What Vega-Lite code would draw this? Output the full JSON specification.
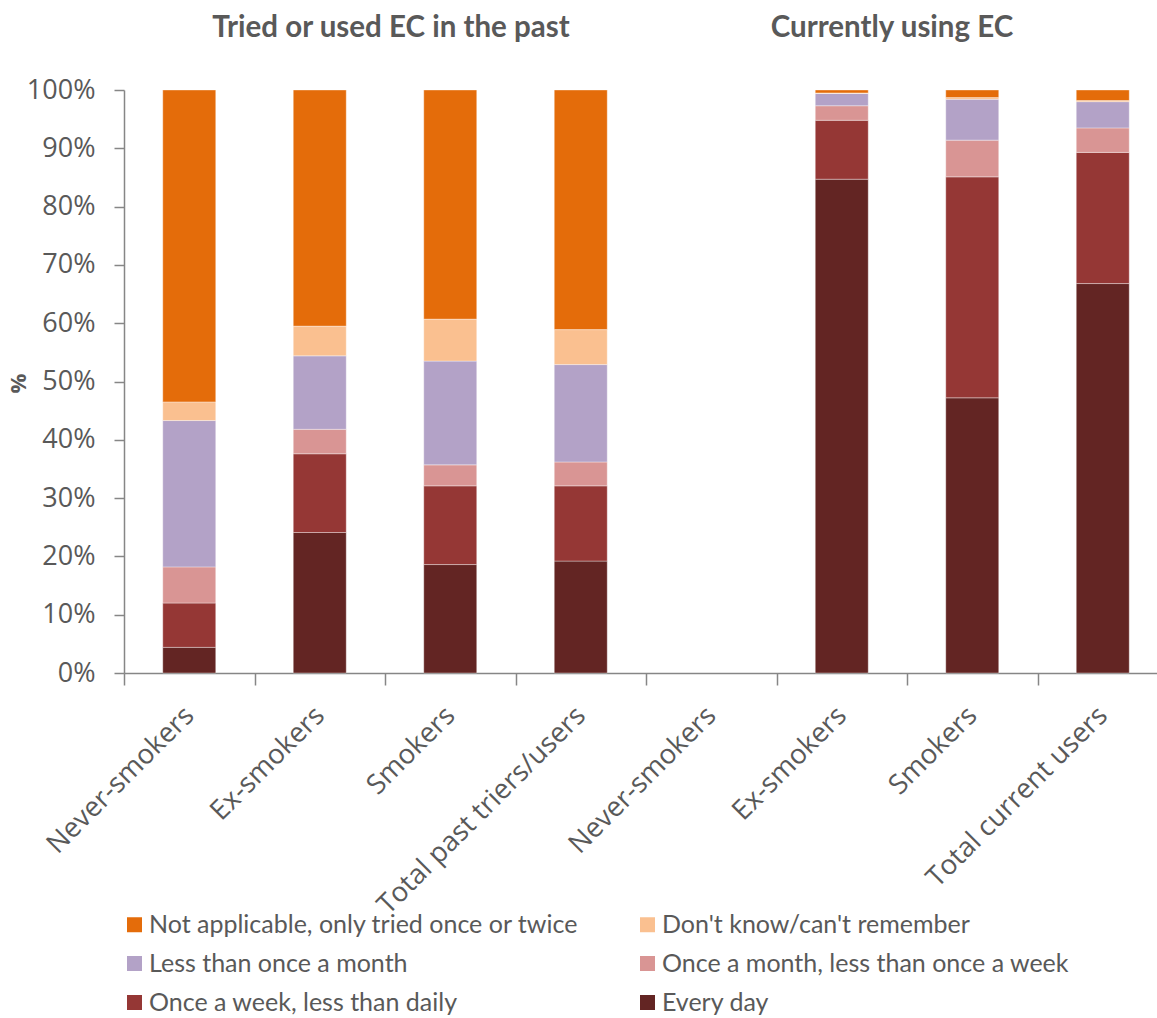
{
  "$schema": "https://vega.github.io/schema/vega-lite/v6.json",
  "autosize": {"type": "none"},
  "padding": {"left": 124, "top": 90, "right": 0, "bottom": 345},
  "width": 1033,
  "height": 583,
  "background": "#ffffff",
  "config": {"view": {"stroke": null}, "font": "Open Sans"},
  "datasets": {
    "bars": [
      {"cat": "Never-smokers (past)", "freq": "Every day", "k": 1, "pct": 4.4},
      {"cat": "Never-smokers (past)", "freq": "Once a week, less than daily", "k": 2, "pct": 7.6},
      {"cat": "Never-smokers (past)", "freq": "Once a month, less than once a week", "k": 3, "pct": 6.2},
      {"cat": "Never-smokers (past)", "freq": "Less than once a month", "k": 4, "pct": 25.1},
      {"cat": "Never-smokers (past)", "freq": "Don't know/can't remember", "k": 5, "pct": 3.2},
      {"cat": "Never-smokers (past)", "freq": "Not applicable, only tried once or twice", "k": 6, "pct": 53.5},
      {"cat": "Ex-smokers (past)", "freq": "Every day", "k": 1, "pct": 24.1},
      {"cat": "Ex-smokers (past)", "freq": "Once a week, less than daily", "k": 2, "pct": 13.5},
      {"cat": "Ex-smokers (past)", "freq": "Once a month, less than once a week", "k": 3, "pct": 4.2},
      {"cat": "Ex-smokers (past)", "freq": "Less than once a month", "k": 4, "pct": 12.6},
      {"cat": "Ex-smokers (past)", "freq": "Don't know/can't remember", "k": 5, "pct": 5.1},
      {"cat": "Ex-smokers (past)", "freq": "Not applicable, only tried once or twice", "k": 6, "pct": 40.5},
      {"cat": "Smokers (past)", "freq": "Every day", "k": 1, "pct": 18.6},
      {"cat": "Smokers (past)", "freq": "Once a week, less than daily", "k": 2, "pct": 13.5},
      {"cat": "Smokers (past)", "freq": "Once a month, less than once a week", "k": 3, "pct": 3.6},
      {"cat": "Smokers (past)", "freq": "Less than once a month", "k": 4, "pct": 17.8},
      {"cat": "Smokers (past)", "freq": "Don't know/can't remember", "k": 5, "pct": 7.2},
      {"cat": "Smokers (past)", "freq": "Not applicable, only tried once or twice", "k": 6, "pct": 39.3},
      {"cat": "Total past triers/users", "freq": "Every day", "k": 1, "pct": 19.2},
      {"cat": "Total past triers/users", "freq": "Once a week, less than daily", "k": 2, "pct": 12.9},
      {"cat": "Total past triers/users", "freq": "Once a month, less than once a week", "k": 3, "pct": 4.1},
      {"cat": "Total past triers/users", "freq": "Less than once a month", "k": 4, "pct": 16.7},
      {"cat": "Total past triers/users", "freq": "Don't know/can't remember", "k": 5, "pct": 6.0},
      {"cat": "Total past triers/users", "freq": "Not applicable, only tried once or twice", "k": 6, "pct": 41.1},
      {"cat": "Ex-smokers (current)", "freq": "Every day", "k": 1, "pct": 84.7},
      {"cat": "Ex-smokers (current)", "freq": "Once a week, less than daily", "k": 2, "pct": 10.1},
      {"cat": "Ex-smokers (current)", "freq": "Once a month, less than once a week", "k": 3, "pct": 2.5},
      {"cat": "Ex-smokers (current)", "freq": "Less than once a month", "k": 4, "pct": 2.1},
      {"cat": "Ex-smokers (current)", "freq": "Don't know/can't remember", "k": 5, "pct": 0.1},
      {"cat": "Ex-smokers (current)", "freq": "Not applicable, only tried once or twice", "k": 6, "pct": 0.5},
      {"cat": "Smokers (current)", "freq": "Every day", "k": 1, "pct": 47.2},
      {"cat": "Smokers (current)", "freq": "Once a week, less than daily", "k": 2, "pct": 37.9},
      {"cat": "Smokers (current)", "freq": "Once a month, less than once a week", "k": 3, "pct": 6.3},
      {"cat": "Smokers (current)", "freq": "Less than once a month", "k": 4, "pct": 7.0},
      {"cat": "Smokers (current)", "freq": "Don't know/can't remember", "k": 5, "pct": 0.3},
      {"cat": "Smokers (current)", "freq": "Not applicable, only tried once or twice", "k": 6, "pct": 1.3},
      {"cat": "Total current users", "freq": "Every day", "k": 1, "pct": 66.8},
      {"cat": "Total current users", "freq": "Once a week, less than daily", "k": 2, "pct": 22.5},
      {"cat": "Total current users", "freq": "Once a month, less than once a week", "k": 3, "pct": 4.2},
      {"cat": "Total current users", "freq": "Less than once a month", "k": 4, "pct": 4.5},
      {"cat": "Total current users", "freq": "Don't know/can't remember", "k": 5, "pct": 0.2},
      {"cat": "Total current users", "freq": "Not applicable, only tried once or twice", "k": 6, "pct": 1.8}
    ],
    "title1": [{"cat": "Smokers (past)", "t": "Tried or used EC in the past"}],
    "title2": [{"cat": "Ex-smokers (current)", "t": "Currently using EC"}]
  },
  "encoding": {
    "x": {
      "field": "cat",
      "type": "nominal",
      "sort": null,
      "scale": {
        "domain": ["Never-smokers (past)", "Ex-smokers (past)", "Smokers (past)", "Total past triers/users", "Never-smokers (current)", "Ex-smokers (current)", "Smokers (current)", "Total current users"],
        "range": [0, 1044],
        "paddingInner": 0,
        "paddingOuter": 0
      },
      "axis": {
        "title": null,
        "labelAngle": -45,
        "labelAlign": "right",
        "labelBaseline": "middle",
        "labelFont": "Open Sans",
        "labelFontSize": 27.5,
        "labelColor": "#595959",
        "labelPadding": 26,
        "labelExpr": "replace(replace(datum.label, ' (past)', ''), ' (current)', '')",
        "tickBand": "extent",
        "tickSize": 12,
        "tickColor": "#868686",
        "tickWidth": 1.5,
        "domainColor": "#868686",
        "domainWidth": 1.5,
        "labelLimit": 400
      }
    }
  },
  "layer": [
    {
      "data": {"name": "bars"},
      "mark": {"type": "bar", "width": {"band": 0.406}, "stroke": "#ffffff", "strokeWidth": 0.6, "strokeOpacity": 0.6},
      "encoding": {
        "y": {
          "field": "pct",
          "type": "quantitative",
          "stack": "zero",
          "scale": {"domain": [0, 100], "nice": false},
          "axis": {
            "title": "%",
            "titleFont": "Open Sans",
            "titleFontSize": 22,
            "titleFontWeight": "bold",
            "titleColor": "#595959",
            "titleX": -106,
            "titleY": 293,
            "titleAngle": -90,
            "titleAlign": "center",
            "titleBaseline": "middle",
            "values": [0, 10, 20, 30, 40, 50, 60, 70, 80, 90, 100],
            "labelExpr": "datum.value + '%'",
            "labelFont": "Open Sans",
            "labelFontSize": 27,
            "labelColor": "#595959",
            "labelPadding": 19,
            "tickSize": 10,
            "tickColor": "#868686",
            "tickWidth": 1.5,
            "domainColor": "#868686",
            "domainWidth": 1.5,
            "grid": false
          }
        },
        "color": {
          "field": "freq",
          "type": "nominal",
          "scale": {
            "domain": ["Not applicable, only tried once or twice", "Don't know/can't remember", "Less than once a month", "Once a month, less than once a week", "Once a week, less than daily", "Every day"],
            "range": ["#E46C0A", "#FAC090", "#B3A2C7", "#D99594", "#953735", "#632523"]
          },
          "legend": {
            "title": null,
            "orient": "none",
            "legendX": -2,
            "legendY": 822,
            "direction": "horizontal",
            "columns": 2,
            "columnPadding": 56,
            "rowPadding": 13,
            "padding": 0,
            "symbolType": "square",
            "symbolSize": 225,
            "symbolStrokeWidth": 0,
            "labelFont": "Lato",
            "labelFontSize": 25,
            "labelColor": "#595959",
            "labelOffset": 2,
            "labelLimit": 600
          }
        },
        "order": {"field": "k", "type": "quantitative", "sort": "ascending"}
      }
    },
    {
      "data": {"name": "title1"},
      "mark": {"type": "text", "font": "Lato", "fontSize": 29.5, "fontWeight": "bold", "color": "#595959", "align": "center", "baseline": "middle", "clip": false},
      "encoding": {
        "x": {"field": "cat", "type": "nominal", "sort": null, "bandPosition": 0.046},
        "y": {"datum": 110.6, "type": "quantitative"},
        "text": {"field": "t"}
      }
    },
    {
      "data": {"name": "title2"},
      "mark": {"type": "text", "font": "Lato", "fontSize": 29.5, "fontWeight": "bold", "color": "#595959", "align": "center", "baseline": "middle", "clip": false},
      "encoding": {
        "x": {"field": "cat", "type": "nominal", "sort": null, "bandPosition": 0.885},
        "y": {"datum": 110.6, "type": "quantitative"},
        "text": {"field": "t"}
      }
    }
  ]
}
